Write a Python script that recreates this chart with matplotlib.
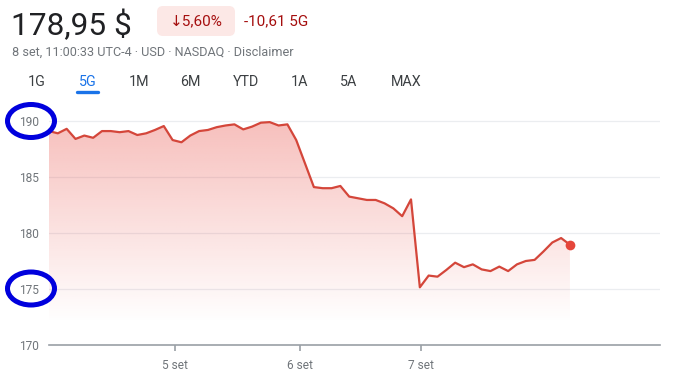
import numpy as np
import matplotlib
matplotlib.use("Agg")
import matplotlib.pyplot as plt
from matplotlib.patches import Ellipse, FancyBboxPatch, Polygon

plt.rcParams['font.family'] = ['Roboto', 'DejaVu Sans']

# price every ~30 min over the 5 days shown
prices = [
    189.1, 188.9, 189.3, 188.4, 188.7, 188.5, 189.1, 189.1, 189.0, 189.1, 188.75, 188.9, 189.2, 189.55,
    188.3, 188.1, 188.7, 189.1, 189.2, 189.45, 189.6, 189.7, 189.25, 189.5, 189.85, 189.9, 189.6, 189.7,
    188.3, 186.2, 184.1, 184.0, 184.0, 184.2, 183.25, 183.1, 182.95, 182.95, 182.65, 182.2, 181.5, 183.0,
    175.15, 176.2, 176.1, 176.7, 177.35, 176.95, 177.2, 176.75, 176.6, 177.0, 176.6, 177.2, 177.5, 177.6,
    178.35, 179.15, 179.55, 178.95,
]
day_labels = ["5 set", "6 set", "7 set"]
day_ticks = [14.25, 28.4, 42.1]
y_ticks = [170, 175, 180, 185, 190]
tabs = ["1G", "5G", "1M", "6M", "YTD", "1A", "5A", "MAX"]

W, H = 685, 384
fig = plt.figure(figsize=(W / 100, H / 100), dpi=100)
fig.patch.set_facecolor("white")


def px_rect(left, top, right, bottom):
    return [left / W, 1 - bottom / H, (right - left) / W, (bottom - top) / H]


# main chart, 170 sits at y=345px, 191 at ~110px
ax = fig.add_axes(px_rect(49, 109.8, 660, 345))
x = np.arange(len(prices))
y = np.array(prices)

ymin, ymax = 170, 191
ax.set_xlim(0, 69.2)
ax.set_ylim(ymin, ymax)

# gradient fill under the line
grad = np.zeros((200, 2, 4))
base = np.array([232, 69, 60]) / 255
grad[..., :3] = base
alpha = np.linspace(0.36, 0.0, 200)  # top -> bottom
grad[..., 3] = alpha[:, None]
img = ax.imshow(grad, extent=[0, x[-1], 172, ymax], origin="upper",
                aspect="auto", zorder=1, interpolation="bilinear")
poly = Polygon(np.column_stack([np.r_[x, x[-1], 0], np.r_[y, 172, 172]]),
               closed=True, facecolor="none", edgecolor="none")
ax.add_patch(poly)
img.set_clip_path(poly)

ax.plot(x, y, color="#d4463a", lw=1.6, zorder=3, solid_joinstyle="round")
ax.plot(x[-1], y[-1], "o", color="#e5463b", ms=7, mec="none", zorder=4)

for v in y_ticks[1:]:
    ax.axhline(v, color="#ebedf0", lw=0.9, zorder=0)

for s in ["top", "right", "left"]:
    ax.spines[s].set_visible(False)
ax.spines["bottom"].set_color("#9aa0a6")
ax.spines["bottom"].set_linewidth(1.2)

ax.set_yticks(y_ticks)
ax.set_yticklabels([str(v) for v in y_ticks])
ax.tick_params(axis="y", length=0, pad=7, labelsize=8.6, labelcolor="#70757a")
ax.set_xticks(day_ticks)
ax.set_xticklabels(day_labels)
ax.tick_params(axis="x", length=4, width=1.2, color="#9aa0a6", pad=6,
               labelsize=8.6, labelcolor="#70757a")

# overlay in pixel coords for header and annotations
ov = fig.add_axes([0, 0, 1, 1], zorder=10)
ov.set_xlim(0, W)
ov.set_ylim(H, 0)
ov.axis("off")
ov.patch.set_alpha(0)

ov.text(11, 35, "178,95 $", fontsize=22.8, color="#202124", va="baseline")
ov.add_patch(FancyBboxPatch((157, 6), 78, 30, boxstyle="round,pad=0,rounding_size=6",
                            facecolor="#fce8e6", edgecolor="none"))
ov.text(196, 21, "\u2193" + "5,60%", fontsize=11, color="#a50e0e", ha="center", va="center")
ov.text(244, 21, "-10,61 5G", fontsize=11, color="#a50e0e", va="center")
ov.text(12, 52, "8 set, 11:00:33 UTC-4 \u00b7 USD \u00b7 NASDAQ \u00b7 Disclaimer",
        fontsize=9.1, color="#70757a", va="center")

tab_x = [36.5, 87.5, 139, 190, 246, 300, 349, 406]
for t, tx in zip(tabs, tab_x):
    col = "#1a73e8" if t == "5G" else "#3c4043"
    ov.text(tx, 81.5, t, fontsize=10.3, color=col, ha="center", va="center")
ov.plot([77.5, 98.5], [92, 92], color="#1a73e8", lw=2.4, solid_capstyle="round")

# blue circles highlighting 190 and 175
for cy in (121, 288.5):
    ov.add_patch(Ellipse((31, cy), 47, 33, facecolor="none", edgecolor="#0000dd", lw=3.6))

fig.savefig("out.png", dpi=100, facecolor="white")
